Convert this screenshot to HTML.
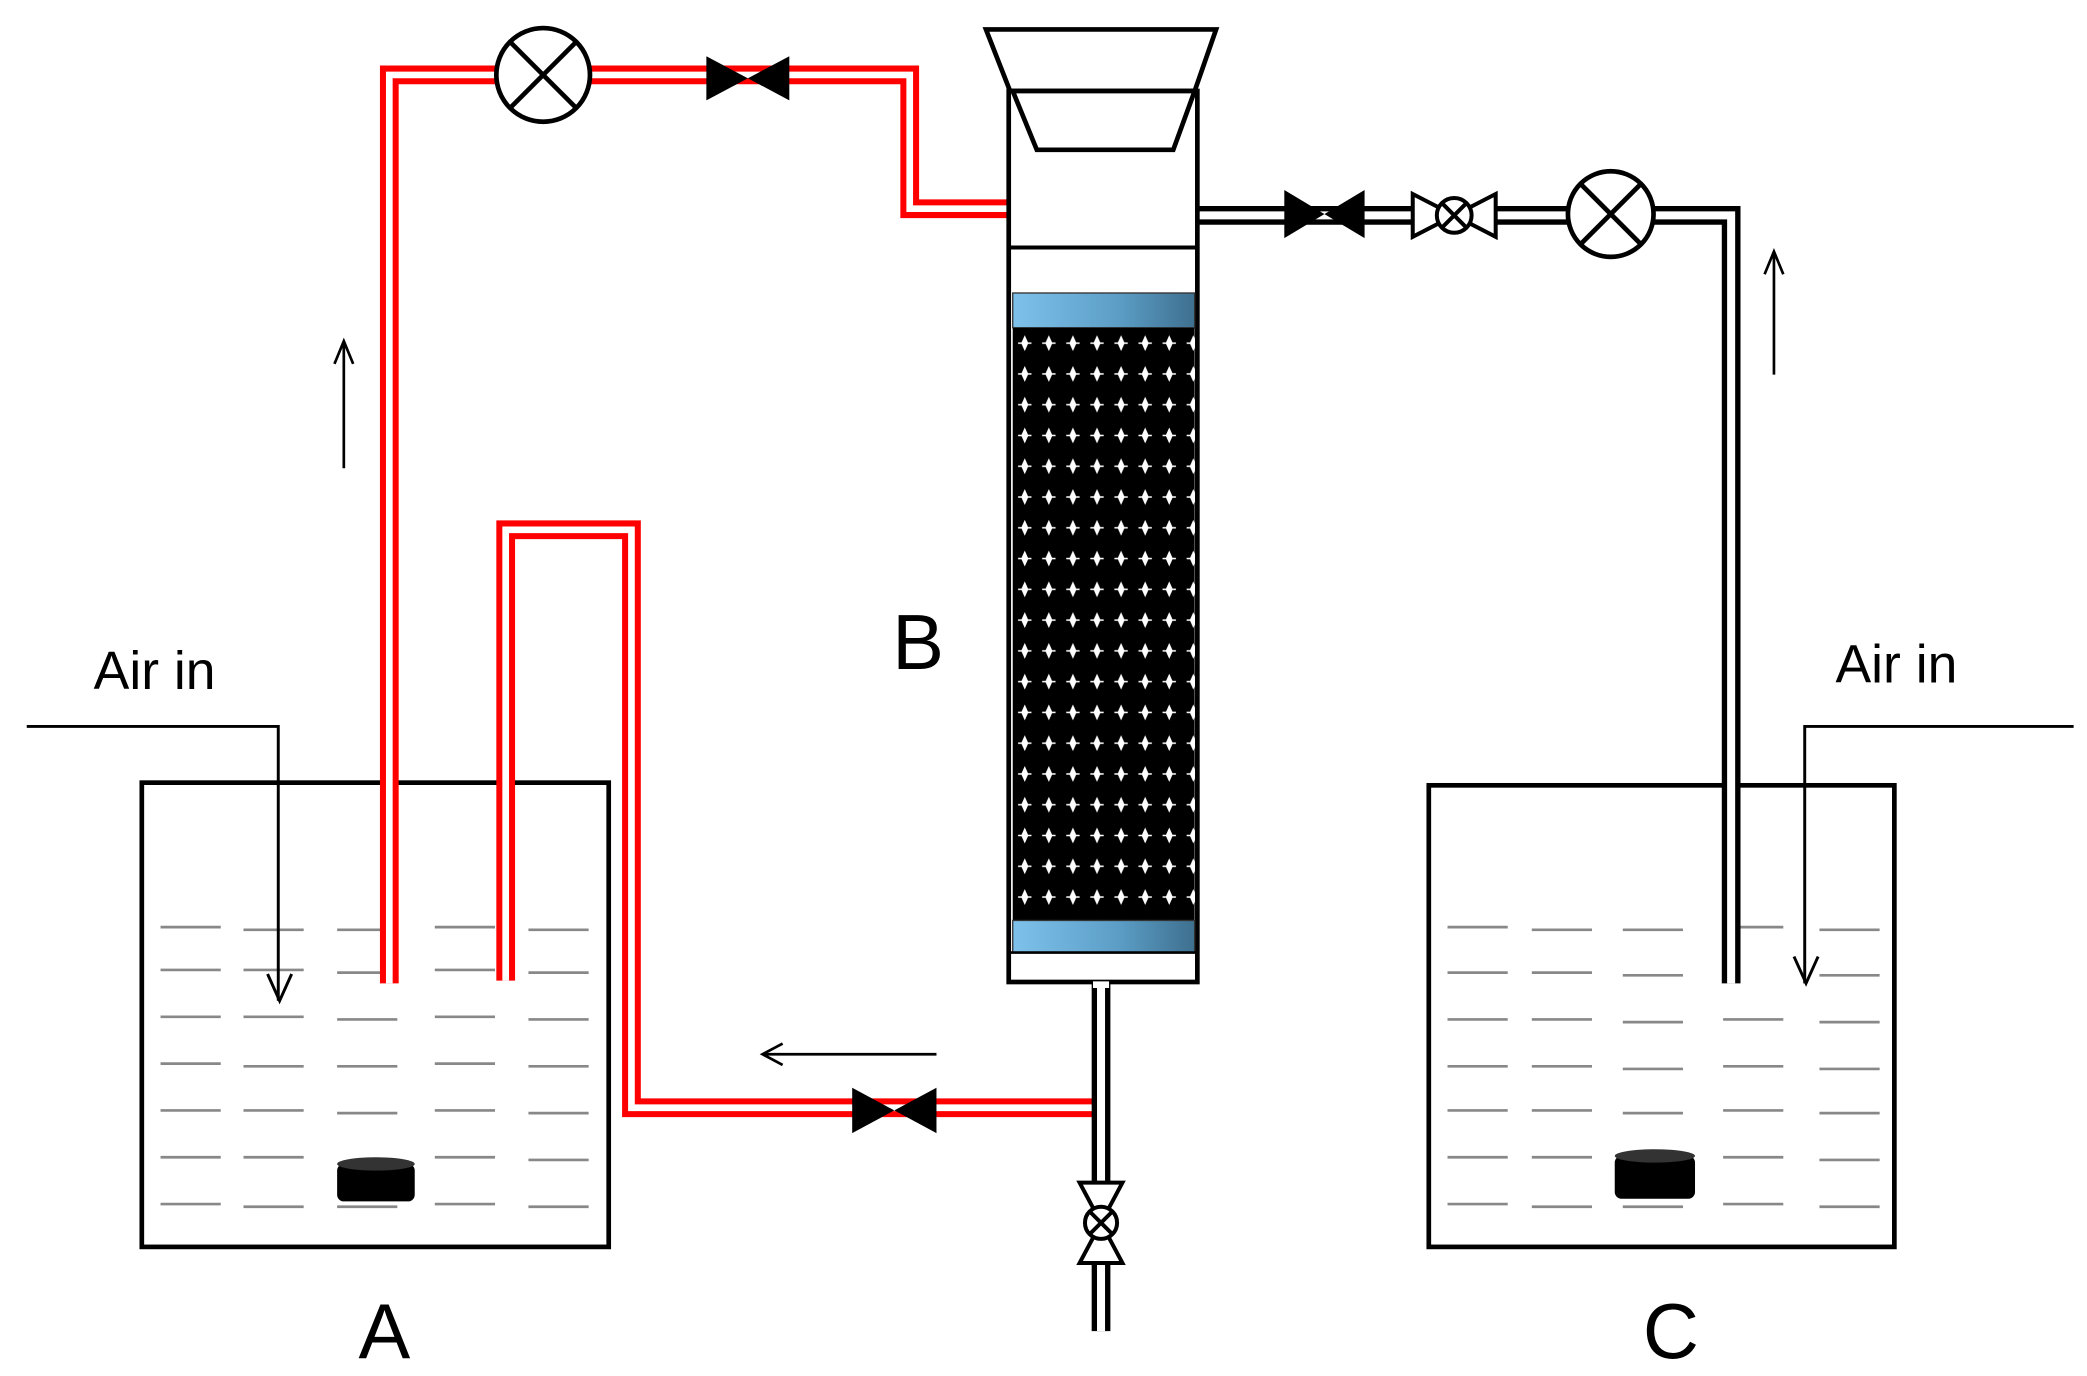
<!DOCTYPE html>
<html><head><meta charset="utf-8"><style>html,body{margin:0;padding:0;background:#fff}svg{display:block}</style></head>
<body>
<svg width="2087" height="1376" viewBox="0 0 1560 1028.5" preserveAspectRatio="none" xmlns="http://www.w3.org/2000/svg">
<defs>
<linearGradient id="bl" x1="0" x2="1" y1="0" y2="0"><stop offset="0" stop-color="#7ec2ec"/><stop offset="0.6" stop-color="#5a9cc4"/><stop offset="1" stop-color="#3e6f8f"/></linearGradient>
<pattern id="beads" width="18" height="23" patternUnits="userSpaceOnUse" x="757" y="245">
<rect width="18" height="23" fill="#000"/>
<path d="M9 7 L11 11.5 L9 16 L7 11.5 Z M4 11.5 L14 11.5" fill="#fff" stroke="#fff" stroke-width="1.2"/>
</pattern>
</defs>
<g font-family="Liberation Sans, sans-serif" fill="#000">
<text x="70" y="515" font-size="40">Air in</text>
<text x="1372" y="510" font-size="40">Air in</text>
<text x="268" y="1015" font-size="58">A</text>
<text x="667" y="500" font-size="58">B</text>
<text x="1228" y="1015" font-size="58">C</text>
</g>
<!-- tanks -->
<rect x="106" y="585" width="349" height="347" fill="none" stroke="#000" stroke-width="3.5"/>
<rect x="1068" y="587" width="348" height="345" fill="none" stroke="#000" stroke-width="3.5"/>
<!-- water dashes -->
<g stroke="#888" stroke-width="2">
<path d="M120 693h45M182 695h45M252 695h45M325 693h45M395 695h45
M120 725h45M182 725h45M252 727h45M325 725h45M395 727h45
M120 760h45M182 760h45M252 762h45M325 760h45M395 762h45
M120 795h45M182 797h45M252 797h45M325 795h45M395 797h45
M120 830h45M182 830h45M252 832h45M325 830h45M395 832h45
M120 865h45M182 865h45M325 865h45M395 867h45
M120 900h45M182 902h45M252 902h45M325 900h45M395 902h45"/>
<path d="M1082 693h45M1145 695h45M1213 695h45M1288 693h45M1360 695h45
M1082 727h45M1145 727h45M1213 729h45M1360 729h45
M1082 762h45M1145 762h45M1213 764h45M1288 762h45M1360 764h45
M1082 797h45M1145 797h45M1213 799h45M1288 797h45M1360 799h45
M1082 830h45M1145 830h45M1213 832h45M1288 830h45M1360 832h45
M1082 865h45M1145 865h45M1288 865h45M1360 867h45
M1082 900h45M1145 902h45M1213 902h45M1288 900h45M1360 902h45"/>
</g>
<!-- cylinders -->
<rect x="252" y="870" width="58" height="28" rx="5" fill="#000"/><ellipse cx="281" cy="870" rx="29" ry="5" fill="#333"/>
<rect x="1207" y="864" width="60" height="32" rx="5" fill="#000"/><ellipse cx="1237" cy="864" rx="30" ry="5" fill="#333"/>
<!-- air in lines -->
<path d="M20 543H208V748" fill="none" stroke="#000" stroke-width="2.2"/>
<path d="M200 728L209 748L218 728" fill="none" stroke="#000" stroke-width="2.2"/>
<path d="M1550 543H1349V735" fill="none" stroke="#000" stroke-width="2.2"/>
<path d="M1341 715L1350 735L1359 715" fill="none" stroke="#000" stroke-width="2.2"/>
<!-- flow arrows -->
<path d="M257 350V257M250 272L257 255L264 272" fill="none" stroke="#000" stroke-width="2"/>
<path d="M1326 280V188M1319 205L1326 188L1333 205" fill="none" stroke="#000" stroke-width="2"/>
<path d="M700 788H570M585 780L570 788L585 796" fill="none" stroke="#000" stroke-width="2"/>
<!-- red pipes -->
<g fill="none" stroke-linejoin="miter">
<path d="M291 735V56H680V156H754" stroke="#f00" stroke-width="14"/>
<path d="M291 735V56H680V156H754" stroke="#fff" stroke-width="5"/>
<path d="M378 733V396H472V828H820" stroke="#f00" stroke-width="14"/>
<path d="M378 733V396H472V828H820" stroke="#fff" stroke-width="5"/>
<!-- black pipes -->
<path d="M895 161H1294V735" stroke="#000" stroke-width="14"/>
<path d="M895 161H1294V735" stroke="#fff" stroke-width="6"/>
<path d="M823 733V995" stroke="#000" stroke-width="14"/>
<path d="M823 733V995" stroke="#fff" stroke-width="6"/>
</g>
<!-- gauges -->
<g fill="#fff" stroke="#000" stroke-width="3.5">
<circle cx="406" cy="56" r="35"/><path d="M381 31L431 81M431 31L381 81"/>
<circle cx="1204" cy="160" r="32"/><path d="M1181 137L1227 183M1227 137L1181 183"/>
</g>
<!-- solid valves -->
<g fill="#000">
<path d="M528 42L590 75V42L528 75Z"/>
<path d="M637 813L700 847V813L637 847Z"/>
<path d="M960 142L1020 178V142L960 178Z"/>
</g>
<!-- hollow valves -->
<g fill="#fff" stroke="#000" stroke-width="3">
<path d="M1056 145L1118 177V145L1056 177Z"/>
<circle cx="1087" cy="161" r="13"/><path d="M1078 152L1096 170M1096 152L1078 170"/>
<path d="M807 884L839 944H807L839 884Z"/>
<circle cx="823" cy="914" r="12"/><path d="M815 906L831 922M831 906L815 922"/>
</g>
<!-- column B -->
<rect x="754" y="68" width="141" height="666" fill="#fff" stroke="#000" stroke-width="3.5"/>
<path d="M737 22H909L893 68H755Z" fill="#fff" stroke="#000" stroke-width="3.5"/>
<path d="M757 68H893L877 112H775Z" fill="#fff" stroke="#000" stroke-width="3.5"/>
<path d="M754 185H895" stroke="#000" stroke-width="3"/>
<rect x="757" y="219" width="136" height="26" fill="url(#bl)" stroke="#333" stroke-width="1"/>
<rect x="757" y="245" width="136" height="443" fill="url(#beads)"/>
<rect x="757" y="688" width="136" height="24" fill="url(#bl)" stroke="#333" stroke-width="1"/>
<path d="M754 712H895" stroke="#000" stroke-width="2"/>
<path d="M817 736H829" stroke="#fff" stroke-width="5"/>
</svg>
</body></html>
